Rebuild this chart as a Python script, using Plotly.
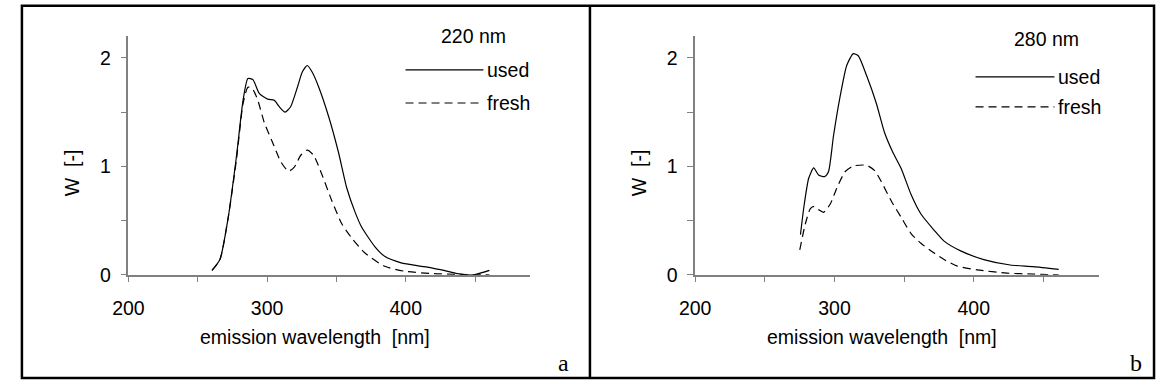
import plotly.graph_objects as go

# Emission spectra, excitation at 220 nm (panel a)
a_used_x = [260.3, 266, 272, 278, 282.7, 286.2, 289.8, 294.5, 300.5, 305.2, 308.8, 313, 317, 321.9,
            325.4, 329, 332.5, 337.3, 344.4, 351.5, 357.5, 363.4, 368.2, 377.7, 384.8, 396.7, 413.3,
            427.6, 437.1, 449, 460.4]
a_used_y = [0.04, 0.14, 0.53, 1.10, 1.61, 1.81, 1.80, 1.67, 1.62, 1.61, 1.55, 1.50, 1.55, 1.73,
            1.87, 1.93, 1.87, 1.73, 1.46, 1.13, 0.80, 0.58, 0.44, 0.26, 0.17, 0.11, 0.075,
            0.04, 0.01, 0.0, 0.04]
a_fresh_x = [260.3, 266, 272, 278, 282.7, 286.2, 289.3, 293.3, 298.1, 304, 310, 315.4, 319.5, 324.2,
             329, 333.7, 339.7, 346.8, 353.9, 361, 370.6, 384.8, 399, 420.5, 439.5, 460.4]
a_fresh_y = [0.04, 0.14, 0.53, 1.07, 1.58, 1.73, 1.72, 1.61, 1.40, 1.22, 1.04, 0.955, 0.99, 1.10,
             1.15, 1.10, 0.92, 0.68, 0.47, 0.34, 0.20, 0.078, 0.033, 0.01, 0.003, 0.0]

# Emission spectra, excitation at 280 nm (panel b)
b_used_x = [275.6, 278, 281.5, 285.1, 288.6, 292.9, 295.7, 299.3, 304, 308.8, 313.5, 317.1, 323,
            330.1, 336, 341.9, 347.9, 355, 362.1, 371.6, 378.7, 390.6, 407.2, 426.2, 442.7, 461]
b_used_y = [0.37, 0.62, 0.89, 0.985, 0.92, 0.905, 0.95, 1.28, 1.64, 1.93, 2.04, 2.02, 1.84,
            1.58, 1.31, 1.13, 0.98, 0.74, 0.56, 0.41, 0.31, 0.22, 0.14, 0.09, 0.075, 0.05]
b_fresh_x = [275.1, 279.1, 282.7, 285.5, 288.6, 292.2, 296.9, 301.7, 307.6, 313.5, 323, 328.9,
             333.6, 340.8, 347.9, 355, 362.1, 371.6, 378.7, 388.2, 402.4, 423.8, 442.7, 461]
b_fresh_y = [0.23, 0.47, 0.61, 0.63, 0.60, 0.576, 0.65, 0.80, 0.95, 1.003, 1.01, 0.96,
             0.86, 0.68, 0.53, 0.38, 0.29, 0.20, 0.14, 0.08, 0.045, 0.015, 0.006, 0.0]

series_names = ["used", "fresh"]
excitation = ["220 nm", "280 nm"]
panel_letters = ["a", "b"]
y_tickvals = [0, 0.5, 1, 1.5, 2]
y_ticktext = ["0", "", "1", "", "2"]
x_tickvals = [200, 250, 300, 350, 400, 450]
x_ticktext = ["200", "", "300", "", "400", ""]

W, H = 1156, 391
FONT = "Liberation Sans, Arial, sans-serif"
FS = 19.5
AXIS_GREY = "#808080"
DASH = "8px,5px"


def px(x):
    return x / W


def py(y):
    return 1 - y / H


fig = go.Figure()

panels = [
    ("x", "y", a_used_x, a_used_y, a_fresh_x, a_fresh_y),
    ("x2", "y2", b_used_x, b_used_y, b_fresh_x, b_fresh_y),
]
for xa, ya, ux, uy, fx, fy in panels:
    fig.add_trace(go.Scatter(x=ux, y=uy, xaxis=xa, yaxis=ya, mode="lines", name=series_names[0],
                             line=dict(color="black", width=1.2, shape="spline", smoothing=0.6),
                             showlegend=False))
    fig.add_trace(go.Scatter(x=fx, y=fy, xaxis=xa, yaxis=ya, mode="lines", name=series_names[1],
                             line=dict(color="black", width=1.2, dash=DASH, shape="spline", smoothing=0.6),
                             showlegend=False))

x_common = dict(range=[200, 490], tickvals=x_tickvals, ticktext=x_ticktext, showgrid=False,
                zeroline=False, showline=True, linecolor=AXIS_GREY, linewidth=1.5,
                ticks="outside", ticklen=6, tickcolor=AXIS_GREY, tickwidth=1.2,
                tickfont=dict(family=FONT, size=FS, color="black"), ticklabelstandoff=9,
                fixedrange=True)
y_common = dict(range=[0, 2.2], tickvals=y_tickvals, ticktext=y_ticktext, showgrid=False,
                zeroline=False, showline=True, linecolor=AXIS_GREY, linewidth=1.5,
                ticks="outside", ticklen=6, tickcolor=AXIS_GREY, tickwidth=1.2,
                tickfont=dict(family=FONT, size=FS, color="black"), ticklabelstandoff=6,
                domain=[py(282.7), py(37.3)], fixedrange=True)

fig.update_layout(
    width=W, height=H, autosize=False,
    margin=dict(l=0, r=0, t=0, b=0),
    paper_bgcolor="white", plot_bgcolor="white",
    xaxis=dict(x_common, domain=[px(114), px(521.7)], anchor="y"),
    yaxis=dict(y_common, anchor="x"),
    xaxis2=dict(x_common, domain=[px(688.7), px(1098.3)], anchor="y2"),
    yaxis2=dict(y_common, anchor="x2"),
)

shapes = [
    # outer frame and panel divider
    dict(type="rect", xref="paper", yref="paper", x0=px(6), x1=px(1154), y0=py(389), y1=py(6),
         line=dict(color="black", width=2.5)),
    dict(type="line", xref="paper", yref="paper", x0=px(582), x1=px(582), y0=py(389), y1=py(6),
         line=dict(color="black", width=2.5)),
]
annotations = []

legend_pos = [
    # (title centre x, title y, line x0, line x1, used y, fresh y)
    (464, 37, 395, 474, 72, 106),
    (1045, 40, 973, 1053, 79, 110),
]
for i, (tx, ty, lx0, lx1, uy_, fy_) in enumerate(legend_pos):
    annotations.append(dict(text=excitation[i], x=px(tx), y=py(ty), xref="paper", yref="paper",
                            showarrow=False, xanchor="center", yanchor="middle",
                            font=dict(family=FONT, size=FS, color="black")))
    shapes.append(dict(type="line", xref="paper", yref="paper", x0=px(lx0), x1=px(lx1),
                       y0=py(uy_), y1=py(uy_), line=dict(color="black", width=1.2)))
    shapes.append(dict(type="line", xref="paper", yref="paper", x0=px(lx0), x1=px(lx1),
                       y0=py(fy_), y1=py(fy_), line=dict(color="black", width=1.2, dash=DASH)))
    for name, yy in zip(series_names, [uy_, fy_]):
        annotations.append(dict(text=name, x=px(lx1 + 2), y=py(yy), xref="paper", yref="paper",
                                showarrow=False, xanchor="left", yanchor="middle",
                                font=dict(family=FONT, size=FS, color="black")))

# axis titles and panel letters
for i, (ycx, xcx, letter_x) in enumerate([(57, 303, 555), (632, 878, 1136)]):
    annotations.append(dict(text="W  [-]", x=px(ycx), y=py(178), xref="paper", yref="paper",
                            showarrow=False, textangle=-90, xanchor="center", yanchor="middle",
                            font=dict(family=FONT, size=FS, color="black")))
    annotations.append(dict(text="emission wavelength  [nm]", x=px(xcx), y=py(347), xref="paper",
                            yref="paper", showarrow=False, xanchor="center", yanchor="middle",
                            font=dict(family=FONT, size=FS, color="black")))
    annotations.append(dict(text=panel_letters[i], x=px(letter_x), y=py(374), xref="paper",
                            yref="paper", showarrow=False, xanchor="center", yanchor="middle",
                            font=dict(family="Liberation Serif, Times New Roman, serif", size=24,
                                      color="black")))

fig.update_layout(shapes=shapes, annotations=annotations)
fig.write_html("out.html")
